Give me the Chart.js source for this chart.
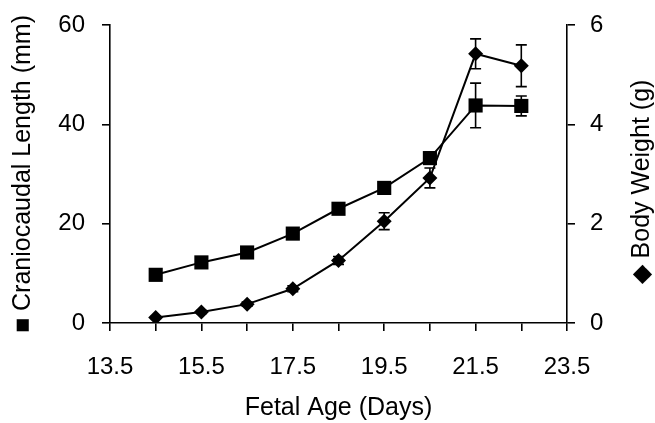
<!DOCTYPE html>
<html>
<head>
<meta charset="utf-8">
<script src="https://cdn.jsdelivr.net/npm/chart.js@4"></script>
<style>
  html, body { margin: 0; padding: 0; background: #fff; }
  #wrap { width: 655px; height: 423px; }
</style>
</head>
<body>
<div id="wrap"><canvas id="c" width="655" height="423"></canvas></div>
<script>
// ---- data ----
const days = [14.5, 15.5, 16.5, 17.5, 18.5, 19.5, 20.5, 21.5, 22.5];
const lengthMm = [9.7, 12.2, 14.2, 18.0, 23.0, 27.2, 33.2, 43.8, 43.7];
const lengthErr = [0.4, 0.4, 0.4, 0.5, 0.6, 0.8, 1.2, 4.5, 2.0];
const weightG = [0.11, 0.22, 0.38, 0.69, 1.26, 2.05, 2.92, 5.42, 5.18];
const weightErr = [0.02, 0.03, 0.04, 0.06, 0.08, 0.17, 0.2, 0.3, 0.42];
const xTicks = [13.5, 14.5, 15.5, 16.5, 17.5, 18.5, 19.5, 20.5, 21.5, 22.5, 23.5];
const xTickLabels = ['13.5', '15.5', '17.5', '19.5', '21.5', '23.5'];
const leftTicks = [0, 20, 40, 60];
const rightTicks = [0, 2, 4, 6];
const leftTitle = '\u25A0 Craniocaudal Length (mm)';
const rightTitle = '\u25C6 Body Weight (g)';
const xTitle = 'Fetal Age (Days)';

const FONT = 'Liberation Sans, Arial, Helvetica, sans-serif';

const errorBars = {
  id: 'errorBars',
  beforeDatasetsDraw(chart) {
    const ctx = chart.ctx;
    const x = chart.scales.x;
    const sets = [
      { vals: lengthMm, errs: lengthErr, scale: chart.scales.yL },
      { vals: weightG, errs: weightErr, scale: chart.scales.yR }
    ];
    ctx.save();
    ctx.strokeStyle = '#000';
    ctx.lineWidth = 1.6;
    sets.forEach(s => {
      days.forEach((d, i) => {
        const px = x.getPixelForValue(d);
        const top = s.scale.getPixelForValue(s.vals[i] + s.errs[i]);
        const bot = s.scale.getPixelForValue(s.vals[i] - s.errs[i]);
        ctx.beginPath();
        ctx.moveTo(px, top); ctx.lineTo(px, bot);
        ctx.moveTo(px - 5.5, top); ctx.lineTo(px + 5.5, top);
        ctx.moveTo(px - 5.5, bot); ctx.lineTo(px + 5.5, bot);
        ctx.stroke();
      });
    });
    ctx.restore();
  },
  afterDraw(chart) {
    const ctx = chart.ctx;
    const a = chart.chartArea;
    ctx.save();
    ctx.fillStyle = '#000';
    ctx.font = '25px ' + FONT;
    ctx.textAlign = 'center';
    ctx.textBaseline = 'middle';
    ctx.translate(642, (a.top + a.bottom) / 2 + 8);
    ctx.rotate(-Math.PI / 2);
    ctx.fillText(rightTitle, 0, 0);
    ctx.restore();
  }
};

function fixY(w) {
  return s => { s.width = w; s.paddingTop = 0; s.paddingBottom = 0; };
}

new Chart(document.getElementById('c'), {
  type: 'line',
  data: {
    datasets: [
      {
        label: 'Craniocaudal Length (mm)',
        data: days.map((d, i) => ({ x: d, y: lengthMm[i] })),
        yAxisID: 'yL',
        borderColor: '#000',
        backgroundColor: '#000',
        borderWidth: 2,
        pointStyle: 'rect',
        pointRadius: 10,
        pointBorderWidth: 0,
        tension: 0
      },
      {
        label: 'Body Weight (g)',
        data: days.map((d, i) => ({ x: d, y: weightG[i] })),
        yAxisID: 'yR',
        borderColor: '#000',
        backgroundColor: '#000',
        borderWidth: 2,
        pointStyle: 'rectRot',
        pointRadius: 7.5,
        pointBorderWidth: 0,
        tension: 0
      }
    ]
  },
  options: {
    responsive: false,
    animation: false,
    events: [],
    layout: { padding: { top: 25, left: 0, right: 0, bottom: 0 } },
    plugins: { legend: { display: false }, tooltip: { enabled: false } },
    scales: {
      x: {
        type: 'linear',
        min: 13.5,
        max: 23.5,
        afterBuildTicks: s => { s.ticks = xTicks.map(v => ({ value: v })); },
        afterFit: s => { s.height = 100; s.paddingLeft = 0; s.paddingRight = 0; },
        ticks: {
          autoSkip: false,
          maxRotation: 0,
          color: '#000',
          font: { family: FONT, size: 24 },
          padding: 22,
          callback: v => { const t = String(v); return xTickLabels.includes(t) ? t : ''; }
        },
        grid: { drawOnChartArea: false, drawTicks: true, tickLength: 8, color: '#000', lineWidth: 1.6 },
        border: { display: true, color: '#000', width: 1.6 },
        title: { display: true, text: xTitle, color: '#000', font: { family: FONT, size: 25 }, padding: { top: 0, bottom: 0 } }
      },
      yL: {
        type: 'linear',
        position: 'left',
        min: 0,
        max: 60,
        afterBuildTicks: s => { s.ticks = leftTicks.map(v => ({ value: v })); },
        afterFit: fixY(110),
        ticks: { color: '#000', font: { family: FONT, size: 24 }, padding: 17 },
        grid: { drawOnChartArea: false, drawTicks: true, tickLength: 8, color: '#000', lineWidth: 1.6 },
        border: { display: true, color: '#000', width: 1.6 },
        title: { display: true, text: leftTitle, color: '#000', font: { family: FONT, size: 25 }, padding: { top: 8, bottom: 0 } }
      },
      yR: {
        type: 'linear',
        position: 'right',
        min: 0,
        max: 6,
        afterBuildTicks: s => { s.ticks = rightTicks.map(v => ({ value: v })); },
        afterFit: fixY(88),
        ticks: { color: '#000', font: { family: FONT, size: 24 }, padding: 15 },
        grid: { drawOnChartArea: false, drawTicks: true, tickLength: 8, color: '#000', lineWidth: 1.6 },
        border: { display: true, color: '#000', width: 1.6 }
      }
    }
  },
  plugins: [errorBars]
});
</script>
</body>
</html>
